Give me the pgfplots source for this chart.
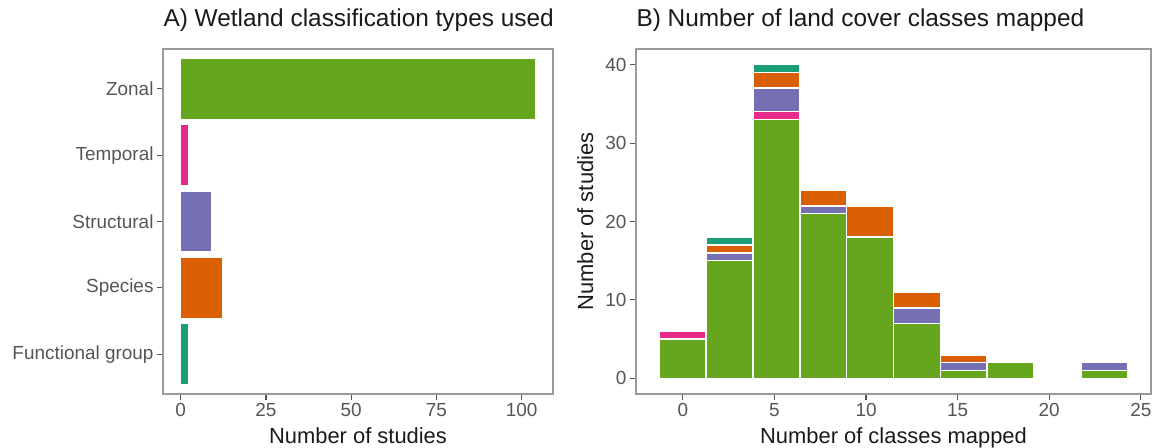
\documentclass[border=0pt]{standalone}
\usepackage{fontspec}
\setmainfont{Liberation Sans}
\usepackage{pgfplots}
\pgfplotsset{compat=1.18}
\usepackage{pgfplotstable}
\definecolor{cgreen}{HTML}{66A61E}
\definecolor{cpink}{HTML}{E7298A}
\definecolor{cpurple}{HTML}{7570B3}
\definecolor{corange}{HTML}{D95F02}
\definecolor{cteal}{HTML}{1B9E77}
\definecolor{tickgray}{HTML}{555555}
\definecolor{framegray}{HTML}{9A9A9A}
\definecolor{titleblack}{HTML}{1A1A1A}

\pgfplotstableread{
x      green pink purple orange teal
0      5     1    0      0      0
2.5556 15    0    1      1      1
5.1111 33    1    3      2      1
7.6667 21    0    1      2      0
10.2222 18   0    0      4      0
12.7778 7    0    2      2      0
15.3333 1    0    1      1      0
17.8889 2    0    0      0      0
23     1     0    1      0      0
}\histdata

\begin{document}
\begin{tikzpicture}
\pgfplotsset{
  common/.style={
    scale only axis, anchor=south west,
    axis line style={draw=framegray, line width=1.4bp},
    tick style={draw=tickgray, line width=1.1bp},
    tick align=outside, major tick length=6bp,
    xtick pos=bottom, ytick pos=left,
    ticklabel style={font=\fontsize{19}{22}\selectfont, text=tickgray},
    xticklabel style={anchor=base, yshift=-16bp},
    label style={font=\fontsize{22}{26}\selectfont, text=titleblack},
    xlabel style={at={(axis description cs:0.5,0)}, anchor=base, yshift=-49bp},
    title style={font=\fontsize{24.5}{28}\selectfont, text=titleblack, anchor=base west, at={(axis description cs:0,1)}, yshift=17bp, xshift=-3bp},
    /pgf/number format/assume math mode=true,
  }
}
% Panel A
\begin{axis}[common,
  at={(163bp,54bp)}, width=390bp, height=345bp,
  xmin=-5.2, xmax=109.2, ymin=0.4, ymax=5.6,
  xtick={0,25,50,75,100},
  ytick={1,2,3,4,5},
  yticklabels={Functional group,Species,Structural,Temporal,Zonal},
  xbar, bar shift=0pt, bar width=0.9,
  title={A) Wetland classification types used},
  xlabel={Number of studies},
]
\addplot[fill=cteal, draw=none] coordinates {(2,1)};
\addplot[fill=corange, draw=none] coordinates {(12,2)};
\addplot[fill=cpurple, draw=none] coordinates {(9,3)};
\addplot[fill=cpink, draw=none] coordinates {(2,4)};
\addplot[fill=cgreen, draw=none] coordinates {(104,5)};
\end{axis}
% Panel B
\begin{axis}[common,
  at={(636bp,54bp)}, width=515bp, height=345bp,
  xmin=-2.5556, xmax=25.5556, ymin=-2, ymax=42,
  xtick={0,5,10,15,20,25},
  ytick={0,10,20,30,40},
  ybar stacked, bar width=2.5556,
  title={B) Number of land cover classes mapped},
  xlabel={Number of classes mapped},
  ylabel={Number of studies},
  ylabel style={at={(axis description cs:0,0.5)}, anchor=base, yshift=43bp},
]
\addplot[fill=cgreen, draw=white, line width=1.5bp] table[x=x, y=green] {\histdata};
\addplot[fill=cpink, draw=white, line width=1.5bp] table[x=x, y=pink] {\histdata};
\addplot[fill=cpurple, draw=white, line width=1.5bp] table[x=x, y=purple] {\histdata};
\addplot[fill=corange, draw=white, line width=1.5bp] table[x=x, y=orange] {\histdata};
\addplot[fill=cteal, draw=white, line width=1.5bp] table[x=x, y=teal] {\histdata};
\end{axis}
\pgfresetboundingbox
\path[use as bounding box] (0,0) rectangle (1155bp,448bp);
\end{tikzpicture}
\end{document}
